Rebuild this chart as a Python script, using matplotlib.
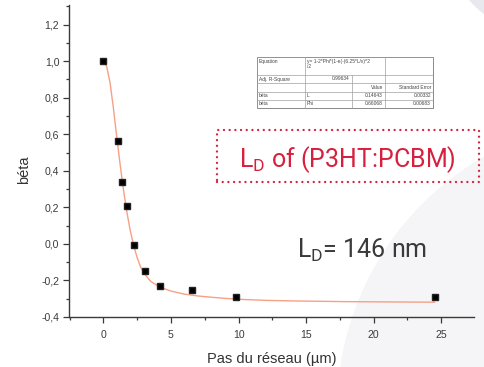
import matplotlib
matplotlib.use('Agg')
import matplotlib.pyplot as plt
from matplotlib.patches import Rectangle, Ellipse
from matplotlib.lines import Line2D
from matplotlib.ticker import MultipleLocator, FixedLocator, FuncFormatter

# ---------------- data ----------------
pitch_um = [0.0, 1.11, 1.37, 1.78, 2.27, 3.08, 4.19, 6.54, 9.80, 24.53]
beta = [1.0, 0.563, 0.34, 0.209, -0.006, -0.15, -0.23, -0.251, -0.293, -0.29]

fit_x = [0.0, 0.25, 0.5, 0.75, 1.0, 1.25, 1.5, 1.75, 2.0, 2.25, 2.5, 2.75,
         3.0, 3.5, 4.0, 4.5, 5.0, 6.0, 7.0, 8.0, 9.0, 10.0, 12.0, 14.0,
         16.0, 18.0, 20.0, 22.0, 24.5]
fit_y = [1.0, 0.97, 0.88, 0.74, 0.58, 0.43, 0.29, 0.17, 0.07, -0.01, -0.075,
         -0.125, -0.16, -0.205, -0.228, -0.245, -0.258, -0.275, -0.285,
         -0.292, -0.298, -0.303, -0.309, -0.312, -0.314, -0.316, -0.317,
         -0.318, -0.319]

x_ticks = [0, 5, 10, 15, 20, 25]
y_ticks = [-0.4, -0.2, 0.0, 0.2, 0.4, 0.6, 0.8, 1.0, 1.2]

x_label = "Pas du réseau (µm)"
y_label = "béta"

table_equation = ["y= 1-2*Phi*(1-e(-(6.25*L/x)^2", "/2"]
table_r2 = ["Adj. R-Square", "0.99634"]
table_header = ["Value", "Standard Error"]
table_params = [["béta", "L", "0.14643", "0.00332"],
                ["béta", "Phi", "0.66068", "0.00683"]]

title_text = r"L$_\mathregular{D}$ of (P3HT:PCBM)"
result_text = r"L$_\mathregular{D}$= 146 nm"

# ---------------- figure ----------------
plt.rcParams['mathtext.default'] = 'regular'
W, H = 485, 367
fig = plt.figure(figsize=(W / 100, H / 100), dpi=100)
fig.patch.set_facecolor('white')


def fx(x):
    return x / W


def fy(y):
    return 1 - y / H


# decorative background
fig.patches.append(Ellipse((fx(629), fy(410)), 2 * 292 / W, 2 * 292 / H,
                           transform=fig.transFigure, facecolor='#f5f5f7',
                           edgecolor='none', zorder=-2))
fig.patches.append(Ellipse((fx(545), fy(-65)), 2 * 100 / W, 2 * 100 / H,
                           transform=fig.transFigure, facecolor='#e8e9ee',
                           edgecolor='none', zorder=-2))

ax = fig.add_axes([fx(69), fy(317), (474 - 69) / W, (317 - 5) / H])
ax.set_zorder(1)
ax.set_facecolor('none')
ax.set_xlim(-2.54, 27.42)
ax.set_ylim(-0.4, 1.307)

ax.plot(fit_x, fit_y, color='#f6a085', lw=1.0, zorder=2)
ax.plot(pitch_um, beta, linestyle='none', marker='s', ms=5, color='black',
        mec='#222222', zorder=3)

for s in ['top', 'right']:
    ax.spines[s].set_visible(False)
for s in ['left', 'bottom']:
    ax.spines[s].set_color('#3a3a3a')
    ax.spines[s].set_linewidth(1.0)

ax.xaxis.set_major_locator(FixedLocator(x_ticks))
ax.xaxis.set_minor_locator(MultipleLocator(2.5))
ax.yaxis.set_major_locator(FixedLocator(y_ticks))
ax.yaxis.set_minor_locator(MultipleLocator(0.1))
fmt = FuncFormatter(lambda v, p: f"{v:.1f}".replace('.', ',').replace('-0,0', '0,0'))
ax.yaxis.set_major_formatter(fmt)
ax.xaxis.set_major_formatter(FuncFormatter(lambda v, p: f"{v:g}"))
ax.tick_params(which='both', direction='out', color='#3a3a3a', width=0.9,
               labelsize=7.6, labelcolor='#3c3c3c')
ax.tick_params(which='major', length=4, pad=3)
ax.tick_params(which='minor', length=2.5)
ax.tick_params(axis='x', which='major', pad=5)
for lab in ax.get_xticklabels() + ax.get_yticklabels():
    lab.set_family('Liberation Sans')

fig.text(fx(272), fy(359), x_label, ha='center', va='center', fontsize=10.5,
         color='#333333', family='Liberation Sans')
fig.text(fx(24), fy(170), y_label, ha='center', va='center', fontsize=10.5,
         rotation=90, color='#333333', family='Liberation Sans')

# ---------------- fit table ----------------
cols = [256.7, 305, 351.7, 385, 433]
rows = [57, 75, 83, 91.5, 99.5, 107.5]
tw = cols[-1] - cols[0]
th = rows[-1] - rows[0]
fig.patches.append(Rectangle((fx(cols[0] + 1.5), fy(rows[-1] + 1.5)), tw / W, th / H,
                             transform=fig.transFigure, facecolor='#9a9a9a',
                             edgecolor='none', zorder=4))
fig.patches.append(Rectangle((fx(cols[0]), fy(rows[-1])), tw / W, th / H,
                             transform=fig.transFigure, facecolor='white',
                             edgecolor='#808080', lw=0.6, zorder=5))
lc = '#a0a0a0'
for r in rows[1:-1]:
    fig.lines.append(Line2D([fx(cols[0]), fx(cols[-1])], [fy(r), fy(r)],
                            transform=fig.transFigure, color=lc, lw=0.5, zorder=6))
for i, c in enumerate(cols[1:-1], start=1):
    top = rows[0] if i != 2 else rows[1]
    fig.lines.append(Line2D([fx(c), fx(c)], [fy(top), fy(rows[-1])],
                            transform=fig.transFigure, color=lc, lw=0.5, zorder=6))

tfs = 3.5
tkw = dict(fontsize=tfs, color='#444444', family='Liberation Sans', zorder=7)
fig.text(fx(cols[0] + 2), fy(rows[0] + 4), "Equation", va='center', ha='left', **tkw)
fig.text(fx(cols[1] + 2), fy(rows[0] + 4), table_equation[0], va='center', ha='left', **tkw)
fig.text(fx(cols[1] + 2), fy(rows[0] + 9.5), table_equation[1], va='center', ha='left', **tkw)
fig.text(fx(cols[0] + 2), fy((rows[1] + rows[2]) / 2), table_r2[0], va='center', ha='left', **tkw)
fig.text(fx(cols[2] - 2), fy((rows[1] + rows[2]) / 2), table_r2[1], va='center', ha='right', **tkw)
fig.text(fx(cols[3] - 2), fy((rows[2] + rows[3]) / 2), table_header[0], va='center', ha='right', **tkw)
fig.text(fx(cols[4] - 2), fy((rows[2] + rows[3]) / 2), table_header[1], va='center', ha='right', **tkw)
for k, row in enumerate(table_params):
    yc = fy((rows[3 + k] + rows[4 + k]) / 2)
    fig.text(fx(cols[0] + 2), yc, row[0], va='center', ha='left', **tkw)
    fig.text(fx(cols[1] + 2), yc, row[1], va='center', ha='left', **tkw)
    fig.text(fx(cols[3] - 2), yc, row[2], va='center', ha='right', **tkw)
    fig.text(fx(cols[4] - 2), yc, row[3], va='center', ha='right', **tkw)

# ---------------- annotations ----------------
red = '#d6203e'
fig.patches.append(Rectangle((fx(217), fy(182)), (479 - 217) / W, (182 - 130) / H,
                             transform=fig.transFigure, facecolor='none',
                             edgecolor=red, lw=1.7, linestyle=(0, (0.01, 2.4)),
                             capstyle='round', zorder=6))
fig.text(fx(239), fy(166.7), title_text, ha='left', va='baseline', fontsize=18,
         color=red, family='Roboto', zorder=7)
fig.text(fx(297), fy(257.3), result_text, ha='left', va='baseline', fontsize=18,
         color='#3a3a3a', family='Roboto', zorder=7)

fig.savefig('out.png', dpi=100)
